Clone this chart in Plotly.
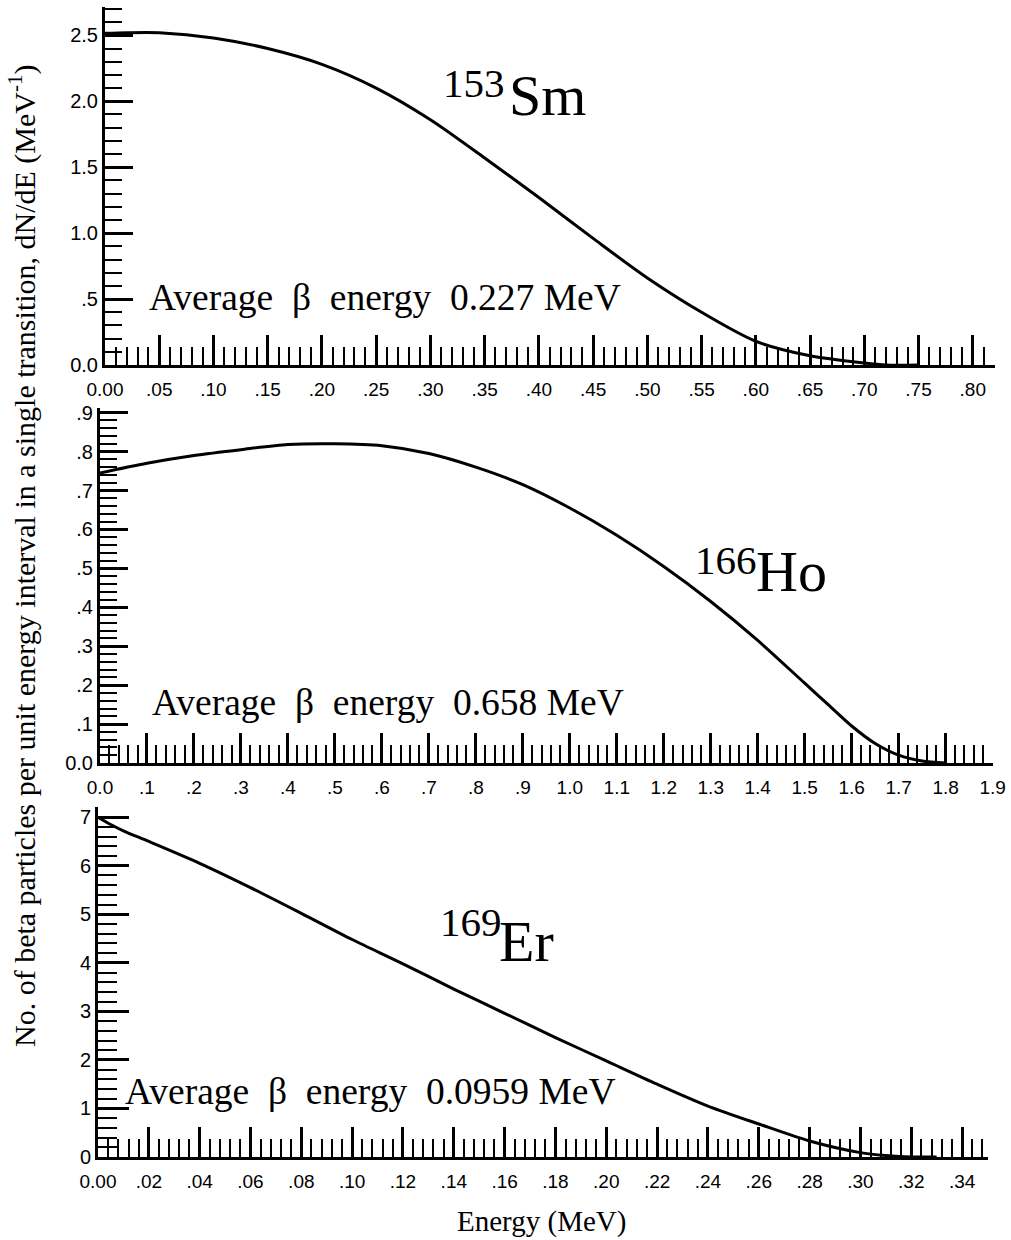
import numpy as np
import plotly.graph_objects as go

W, H = 1011, 1240

# ---------------- data ----------------
sm_energy = [0.0, 0.02, 0.05, 0.10, 0.15, 0.20, 0.25, 0.30, 0.35, 0.40, 0.45, 0.50, 0.55, 0.60, 0.65, 0.70, 0.72, 0.75]
sm_dnde = [2.515, 2.52, 2.52, 2.48, 2.40, 2.28, 2.10, 1.86, 1.57, 1.27, 0.96, 0.66, 0.40, 0.18, 0.07, 0.015, 0.0, 0.0]

ho_energy = [0.0, 0.1, 0.2, 0.3, 0.4, 0.5, 0.6, 0.7, 0.8, 0.9, 1.0, 1.1, 1.2, 1.3, 1.4, 1.5, 1.55, 1.6, 1.65, 1.7, 1.75, 1.8]
ho_dnde = [0.745, 0.77, 0.79, 0.805, 0.818, 0.82, 0.815, 0.795, 0.76, 0.715, 0.655, 0.585, 0.505, 0.415, 0.315, 0.205, 0.15, 0.095, 0.05, 0.02, 0.005, 0.0]

er_energy = [0.0, 0.005, 0.01, 0.02, 0.04, 0.06, 0.08, 0.10, 0.12, 0.14, 0.16, 0.18, 0.20, 0.22, 0.24, 0.26, 0.28, 0.30, 0.31, 0.32, 0.33]
er_dnde = [7.0, 6.85, 6.72, 6.50, 6.05, 5.55, 5.02, 4.48, 3.98, 3.46, 2.96, 2.46, 1.98, 1.50, 1.05, 0.68, 0.33, 0.09, 0.03, 0.0, 0.0]

sm_xticks = [round(0.05 * i, 2) for i in range(17)]
sm_xlabels = ["0.00"] + ["." + f"{v:.2f}"[2:] for v in sm_xticks[1:]]
sm_yticks = [0.0, 0.5, 1.0, 1.5, 2.0, 2.5]
sm_ylabels = ["0.0", ".5", "1.0", "1.5", "2.0", "2.5"]

ho_xticks = [round(0.1 * i, 1) for i in range(20)]
ho_xlabels = ["0.0"] + ["." + str(i) for i in range(1, 10)] + [f"{1 + 0.1 * i:.1f}" for i in range(10)]
ho_yticks = [round(0.1 * i, 1) for i in range(10)]
ho_ylabels = ["0.0"] + ["." + str(i) for i in range(1, 10)]

er_xticks = [round(0.02 * i, 2) for i in range(18)]
er_xlabels = ["0.00"] + ["." + f"{v:.2f}"[2:] for v in er_xticks[1:]]
er_yticks = list(range(8))
er_ylabels = [str(i) for i in range(8)]

avg_texts = ["0.227 MeV", "0.658 MeV", "0.0959 MeV"]
isotopes = [("153", "Sm"), ("166", "Ho"), ("169", "Er")]

# ---------------- figure ----------------
fig = go.Figure()
line = dict(color="black", width=3)
fig.add_trace(go.Scatter(x=sm_energy, y=sm_dnde, mode="lines", line=dict(**line, shape="spline", smoothing=0.8), xaxis="x", yaxis="y", showlegend=False))
fig.add_trace(go.Scatter(x=ho_energy, y=ho_dnde, mode="lines", line=dict(**line, shape="spline", smoothing=0.8), xaxis="x2", yaxis="y2", showlegend=False))
fig.add_trace(go.Scatter(x=er_energy, y=er_dnde, mode="lines", line=dict(**line, shape="spline", smoothing=0.8), xaxis="x3", yaxis="y3", showlegend=False))

xtickfont = dict(family="Liberation Sans, Arial, sans-serif", size=19, color="black")
ytickfont = dict(family="Liberation Sans, Arial, sans-serif", size=20, color="black")


def xax(domain, rng, tvals, ttext, minor_vals, anchor):
    return dict(domain=domain, range=rng, anchor=anchor, showgrid=False, zeroline=False, automargin=False,
                showline=True, linecolor="black", linewidth=3,
                tickmode="array", tickvals=tvals, ticktext=ttext,
                ticks="inside", ticklen=30, tickwidth=2.5, tickcolor="black",
                tickfont=xtickfont, ticklabelstandoff=5,
                minor=dict(tickmode="array", tickvals=minor_vals, ticks="inside", ticklen=18,
                           tickwidth=2, tickcolor="black", showgrid=False))


def yax(domain, rng, tvals, ttext, minor_vals, anchor, majlen=28, minlen=17):
    return dict(domain=domain, range=rng, anchor=anchor, showgrid=False, zeroline=False, automargin=False,
                showline=True, linecolor="black", linewidth=3,
                tickmode="array", tickvals=tvals, ticktext=ttext,
                ticks="inside", ticklen=majlen, tickwidth=2.5, tickcolor="black",
                tickfont=ytickfont, ticklabelstandoff=0,
                minor=dict(tickmode="array", tickvals=minor_vals, ticks="inside", ticklen=minlen,
                           tickwidth=2, tickcolor="black", showgrid=False))


def px_x(p):
    return p / W


def px_y(p):
    return 1 - p / H


sm_xminor = [round(v, 3) for v in np.arange(0, 0.8201, 0.01)]
sm_yminor = [round(v, 2) for v in np.arange(0, 2.71, 0.1)]
ho_xminor = [round(v, 3) for v in np.arange(0, 1.9001, 0.02)]
ho_yminor = [round(v, 3) for v in np.arange(0, 0.9101, 0.02)]
er_xminor = [round(v, 4) for v in np.arange(0, 0.3501, 0.004)]
er_yminor = [round(v, 2) for v in np.arange(0, 7.21, 0.2)]

fig.update_layout(
    width=W, height=H, margin=dict(l=0, r=0, t=0, b=0, autoexpand=False),
    paper_bgcolor="white", plot_bgcolor="white", showlegend=False,
    xaxis=xax([px_x(105), px_x(995)], [0, 0.8205], sm_xticks, sm_xlabels, sm_xminor, "y"),
    yaxis=yax([px_y(365), px_y(7)], [0, 2.715], sm_yticks, sm_ylabels, sm_yminor, "x"),
    xaxis2=xax([px_x(100), px_x(993)], [0, 1.9008], ho_xticks, ho_xlabels, ho_xminor, "y2"),
    yaxis2=yax([px_y(763), px_y(408)], [0, 0.912], ho_yticks, ho_ylabels, ho_yminor, "x2"),
    xaxis3=xax([px_x(98), px_x(988)], [0, 0.3502], er_xticks, er_xlabels, er_xminor, "y3"),
    yaxis3=yax([px_y(1157), px_y(807)], [0, 7.21], er_yticks, er_ylabels, er_yminor, "x3", majlen=31, minlen=19),
)

serif = "Liberation Serif, Times New Roman, serif"
ann = []
# average energy labels (data coordinates)
avg_pos = [("x", "y", 0.0387, 0.515), ("x2", "y2", 0.107, 0.156), ("x3", "y3", 0.0099, 1.34)]
for (xr, yr, xv, yv), t in zip(avg_pos, avg_texts):
    ann.append(dict(xref=xr, yref=yr, x=xv, y=yv, xanchor="left", yanchor="middle", showarrow=False,
                    text="Average\u00a0\u00a0\u03b2\u00a0\u00a0energy\u00a0\u00a0" + t,
                    font=dict(family=serif, size=37.5, color="black")))

# isotope labels (paper coordinates from pixel positions)
iso_pos = [((441, 83), (507, 96)), ((693, 560), (754, 571)), ((438, 922), (497, 941))]
for (mass, sym), ((mx, my), (sx, sy)) in zip(isotopes, iso_pos):
    ann.append(dict(xref="paper", yref="paper", x=px_x(mx), y=px_y(my), xanchor="left", yanchor="middle",
                    showarrow=False, text=mass, font=dict(family=serif, size=41, color="black")))
    ann.append(dict(xref="paper", yref="paper", x=px_x(sx), y=px_y(sy), xanchor="left", yanchor="middle",
                    showarrow=False, text=sym, font=dict(family=serif, size=58, color="black")))

# axis titles
ann.append(dict(xref="paper", yref="paper", x=px_x(22), y=px_y(556), xanchor="center", yanchor="middle",
                showarrow=False, textangle=-90,
                text="No. of beta particles per unit energy interval in a single transition, dN/dE (MeV<sup>-1</sup>)",
                font=dict(family=serif, size=30, color="black")))
ann.append(dict(xref="paper", yref="paper", x=px_x(541), y=px_y(1221), xanchor="center", yanchor="middle",
                showarrow=False, text="Energy (MeV)", font=dict(family=serif, size=29, color="black")))

fig.update_layout(annotations=ann)
fig.write_html("out.html")
